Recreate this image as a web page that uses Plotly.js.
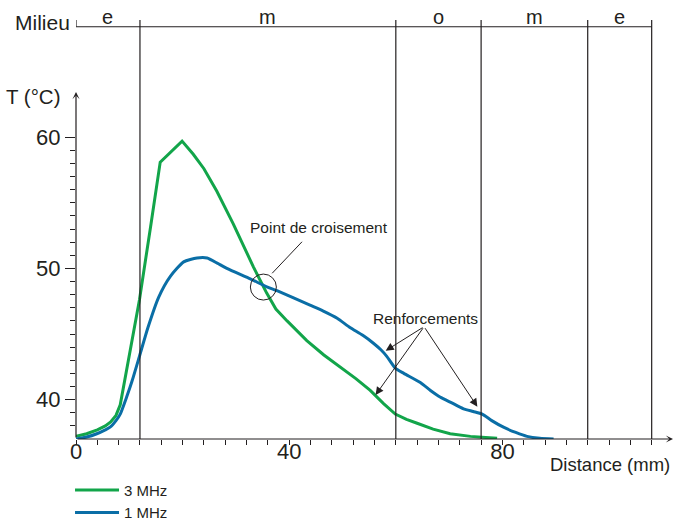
<!DOCTYPE html>
<html>
<head>
<meta charset="utf-8">
<script src="https://cdn.plot.ly/plotly-3.0.1.min.js"></script>
<style>html,body{margin:0;padding:0;background:#fff}#chart{width:675px;height:521px}</style>
</head>
<body>
<div id="chart"></div>
<script>
// Data (distance in mm, temperature in °C)
const dist3MHz = [0, 2, 4, 5.5, 6.5, 7.5, 8.3, 10, 11.9, 14, 15.8, 19.9, 22, 24, 26.4, 29.5, 33.3, 35.8, 37.5, 39.6, 41.5, 43.3, 46.5, 49.6, 52.5, 55.2, 57.7, 59.9, 62, 64, 67, 70.2, 74, 79];
const temp3MHz = [37.2, 37.4, 37.7, 38.0, 38.3, 38.8, 39.6, 43.4, 47.6, 53.2, 58.1, 59.7, 58.7, 57.6, 55.9, 53.4, 50.1, 48.1, 46.9, 46.0, 45.2, 44.5, 43.4, 42.5, 41.6, 40.7, 39.7, 38.9, 38.5, 38.2, 37.75, 37.4, 37.2, 37.05];
const dist1MHz = [0, 2, 3.9, 5.5, 6.4, 7.5, 8.3, 9.5, 10.5, 11.9, 13.5, 15.5, 17.7, 20.2, 22.7, 24.6, 26.5, 28.3, 32.7, 35.8, 37.7, 43.9, 46.4, 49, 51.4, 53.8, 55.8, 57.2, 58.3, 59.9, 61.5, 64.6, 66.5, 68.3, 70.5, 72.7, 74.5, 76.2, 78, 80.2, 82.5, 84.6, 87, 89.6];
const temp1MHz = [37.0, 37.15, 37.4, 37.7, 37.9, 38.4, 38.9, 40.2, 41.4, 43.3, 45.5, 47.8, 49.4, 50.5, 50.8, 50.8, 50.4, 50.0, 49.2, 48.6, 48.3, 47.2, 46.75, 46.2, 45.5, 44.9, 44.3, 43.8, 43.3, 42.4, 42.0, 41.3, 40.7, 40.2, 39.75, 39.3, 39.1, 38.9, 38.4, 37.9, 37.5, 37.2, 37.05, 37.0];
const seriesNames = ["3 MHz", "1 MHz"];
// Media ("Milieu") boundaries (mm) and labels
const mediumBounds = [0, 12, 60, 76, 96, 108];
const mediumLabels = ["e", "m", "o", "m", "e"];
// Axis ticks
const xTickVals = [0, 40, 80];
const xTickText = ["0", "40", "80"];
const yTickVals = [40, 50, 60];
const yTickText = ["40", "50", "60"];
// Annotated points
const crossPoint = {x: 35.15, y: 48.58};
const reinforcementTargets = [[58.1, 43.73], [56.2, 40.35], [75.3, 39.46]];

const FONT = '"Liberation Sans", Arial, Helvetica, sans-serif';
const INK = '#231f20';
const GREEN = '#12a54a';
const BLUE = '#0a6ea6';

const X0 = 0, X1 = 112, Y0 = 37, Y1 = 70;
const yAxisTop = 63.45;
const barY = 68.42, barTickTop = 68.93, labelY = 69.2;

const xMinor = []; for (let v = 4; v <= 108; v += 4) if (xTickVals.indexOf(v) < 0) xMinor.push(v);
const yMinor = []; for (let v = 38; v <= 59; v++) if (yTickVals.indexOf(v) < 0) yMinor.push(v);

const traces = [
  {x: dist3MHz, y: temp3MHz, name: seriesNames[0], type: 'scatter', mode: 'lines',
   line: {color: GREEN, width: 3}, cliponaxis: false},
  {x: dist1MHz, y: temp1MHz, name: seriesNames[1], type: 'scatter', mode: 'lines',
   line: {color: BLUE, width: 3, shape: 'spline', smoothing: 0.6}, cliponaxis: false}
];

const shapes = [];
shapes.push({type: 'line', xref: 'x', yref: 'y', x0: mediumBounds[0], x1: mediumBounds[mediumBounds.length - 1], y0: barY, y1: barY, line: {color: INK, width: 1.2}});
shapes.push({type: 'line', xref: 'x', yref: 'y', x0: mediumBounds[0], x1: mediumBounds[0], y0: barY, y1: barTickTop, line: {color: INK, width: 1.2}});
for (let i = 1; i < mediumBounds.length; i++) {
  shapes.push({type: 'line', xref: 'x', yref: 'y', x0: mediumBounds[i], x1: mediumBounds[i], y0: Y0, y1: barTickTop, line: {color: INK, width: 1.2}});
}
shapes.push({type: 'circle', xref: 'x', yref: 'y', x0: crossPoint.x - 2.44, x1: crossPoint.x + 2.44, y0: crossPoint.y - 0.99, y1: crossPoint.y + 0.99, line: {color: INK, width: 1}});
shapes.push({type: 'line', xref: 'x', yref: 'y', x0: 36.8, y0: 49.63, x1: 42.4, y1: 52.03, line: {color: INK, width: 1}});

const annotations = [];
annotations.push({xref: 'x', yref: 'y', axref: 'x', ayref: 'y', x: X1, y: Y0, ax: X0, ay: Y0, text: '', showarrow: true, arrowhead: 3, arrowsize: 1, arrowwidth: 1.2, arrowcolor: INK, standoff: 0, startstandoff: 0});
annotations.push({xref: 'x', yref: 'y', axref: 'x', ayref: 'y', x: X0, y: yAxisTop, ax: X0, ay: Y0, text: '', showarrow: true, arrowhead: 3, arrowsize: 1, arrowwidth: 1.2, arrowcolor: INK, standoff: 0, startstandoff: 0});
for (let i = 0; i < mediumLabels.length; i++) {
  annotations.push({xref: 'x', yref: 'y', x: (mediumBounds[i] + mediumBounds[i + 1]) / 2, y: labelY, text: mediumLabels[i], showarrow: false, font: {family: FONT, size: 20, color: INK}});
}
annotations.push({xref: 'paper', yref: 'paper', x: -0.0067, y: 0.963, xanchor: 'right', yanchor: 'middle', text: 'Milieu', showarrow: false, font: {family: FONT, size: 21, color: INK}});
annotations.push({xref: 'paper', yref: 'paper', x: -0.0218, y: 0.790, xanchor: 'right', yanchor: 'middle', text: 'T (°C)', showarrow: false, font: {family: FONT, size: 20.5, color: INK}});
annotations.push({xref: 'paper', yref: 'paper', x: 0.9983, y: -0.060, xanchor: 'right', yanchor: 'middle', text: 'Distance (mm)', showarrow: false, font: {family: FONT, size: 18.5, color: INK}});
annotations.push({xref: 'x', yref: 'y', x: 45.5, y: 53.15, text: 'Point de croisement', showarrow: false, font: {family: FONT, size: 15.5, color: INK}});
annotations.push({xref: 'x', yref: 'y', x: 65.6, y: 46.21, text: 'Renforcements', showarrow: false, font: {family: FONT, size: 15.5, color: INK}});
reinforcementTargets.forEach(function (p) {
  annotations.push({xref: 'x', yref: 'y', axref: 'x', ayref: 'y', x: p[0], y: p[1], ax: 65.3, ay: 45.56, text: '', showarrow: true, arrowhead: 2, arrowsize: 1.6, arrowwidth: 1, arrowcolor: INK, standoff: 0, startstandoff: 0});
});

const layout = {
  width: 675, height: 521,
  margin: {l: 76, r: 2, t: 6, b: 82, autoexpand: false},
  paper_bgcolor: '#ffffff', plot_bgcolor: '#ffffff',
  font: {family: FONT, color: INK},
  showlegend: true,
  legend: {x: -0.01, y: -0.08, xanchor: 'left', yanchor: 'top', font: {family: FONT, size: 15, color: INK}, itemwidth: 44, tracegroupgap: 0, bgcolor: 'rgba(0,0,0,0)'},
  xaxis: {range: [X0, X1], showline: false, zeroline: false, showgrid: false,
          tickmode: 'array', tickvals: xTickVals, ticktext: xTickText,
          ticks: 'outside', ticklen: 5, tickwidth: 1, tickcolor: INK, ticklabelstandoff: -12,
          tickfont: {family: FONT, size: 22, color: INK},
          minor: {tickmode: 'array', tickvals: xMinor, ticks: 'outside', ticklen: 5, tickwidth: 1, tickcolor: INK, showgrid: false}},
  yaxis: {range: [Y0, Y1], showline: false, zeroline: false, showgrid: false,
          tickmode: 'array', tickvals: yTickVals, ticktext: yTickText,
          ticks: 'outside', ticklen: 10, tickwidth: 1, tickcolor: INK,
          tickfont: {family: FONT, size: 22, color: INK},
          minor: {tickmode: 'array', tickvals: yMinor, ticks: 'outside', ticklen: 5, tickwidth: 1, tickcolor: INK, showgrid: false}},
  shapes: shapes,
  annotations: annotations
};

Plotly.newPlot('chart', traces, layout, {displayModeBar: false, staticPlot: true});
</script>
</body>
</html>
